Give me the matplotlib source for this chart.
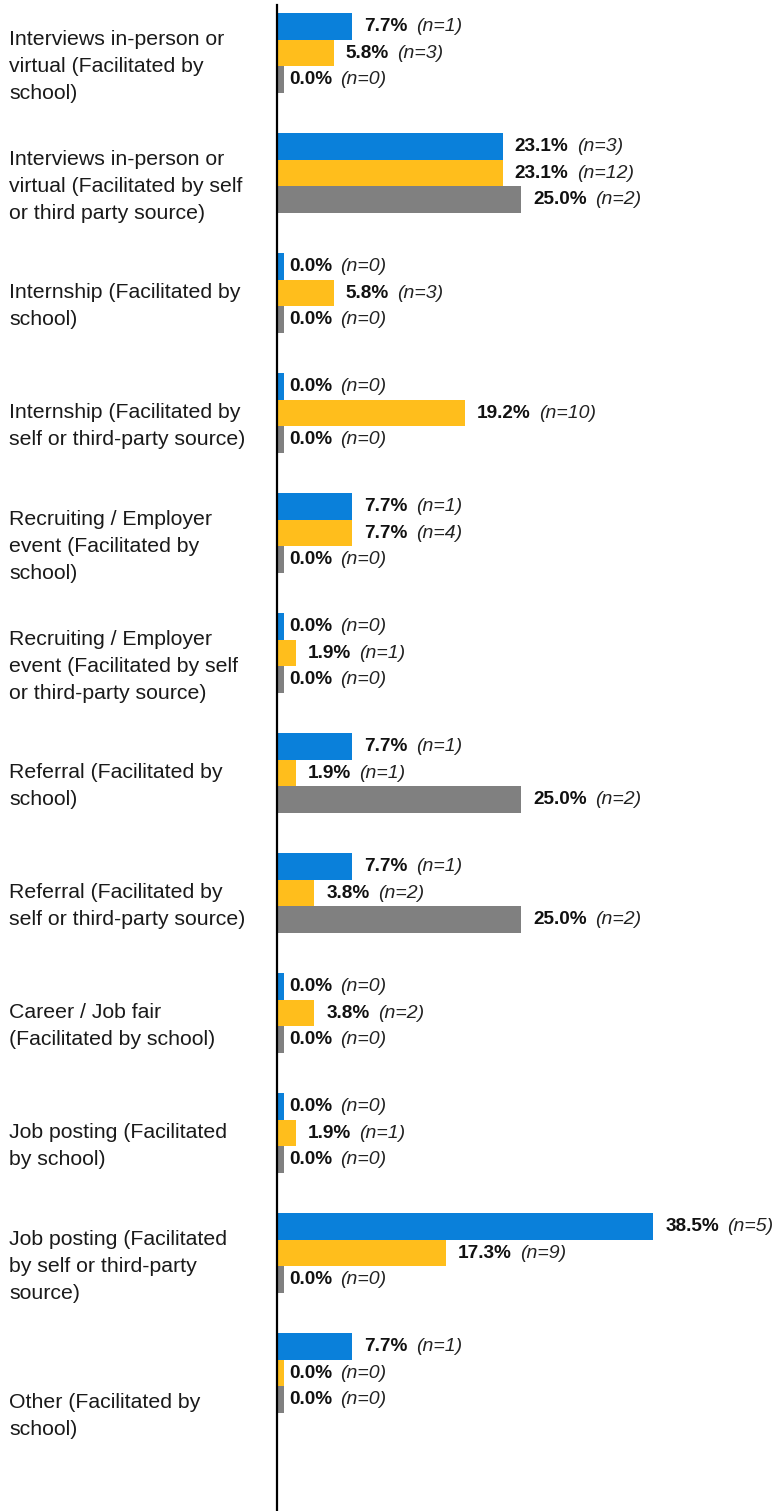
import matplotlib
matplotlib.use('Agg')
import matplotlib.pyplot as plt
from matplotlib.transforms import offset_copy, blended_transform_factory

plt.rcParams['font.family'] = ['Liberation Sans', 'DejaVu Sans']

categories = [
    "Interviews in-person or\nvirtual (Facilitated by\nschool)",
    "Interviews in-person or\nvirtual (Facilitated by self\nor third party source)",
    "Internship (Facilitated by\nschool)",
    "Internship (Facilitated by\nself or third-party source)",
    "Recruiting / Employer\nevent (Facilitated by\nschool)",
    "Recruiting / Employer\nevent (Facilitated by self\nor third-party source)",
    "Referral (Facilitated by\nschool)",
    "Referral (Facilitated by\nself or third-party source)",
    "Career / Job fair\n(Facilitated by school)",
    "Job posting (Facilitated\nby school)",
    "Job posting (Facilitated\nby self or third-party\nsource)",
    "Other (Facilitated by\nschool)",
]

series_names = ["Group 1", "Group 2", "Group 3"]
blue_pct = [7.7, 23.1, 0.0, 0.0, 7.7, 0.0, 7.7, 7.7, 0.0, 0.0, 38.5, 7.7]
blue_n = [1, 3, 0, 0, 1, 0, 1, 1, 0, 0, 5, 1]
yellow_pct = [5.8, 23.1, 5.8, 19.2, 7.7, 1.9, 1.9, 3.8, 3.8, 1.9, 17.3, 0.0]
yellow_n = [3, 12, 3, 10, 4, 1, 1, 2, 2, 1, 9, 0]
gray_pct = [0.0, 25.0, 0.0, 0.0, 0.0, 0.0, 25.0, 25.0, 0.0, 0.0, 0.0, 0.0]
gray_n = [0, 2, 0, 0, 0, 0, 2, 2, 0, 0, 0, 0]

colors = ["#0A80DA", "#FFBE1C", "#808080"]

W, H = 776, 1511
fig = plt.figure(figsize=(W / 100, H / 100), dpi=100)
ax = fig.add_axes([277 / W, 0, (W - 277) / W, (H - 5) / H])

bar_h = 0.222
min_stub = 0.7
series = [(blue_pct, blue_n), (yellow_pct, yellow_n), (gray_pct, gray_n)]
offsets = [-bar_h, 0.0, bar_h]

val_trans = offset_copy(ax.transData, fig=fig, x=12, y=0, units='dots')
for (pcts, ns), off, col, name in zip(series, offsets, colors, series_names):
    ys = [i + off for i in range(len(categories))]
    widths = [max(p, min_stub) for p in pcts]
    ax.barh(ys, widths, height=bar_h, color=col, label=name, linewidth=0)
    for y, p, n in zip(ys, pcts, ns):
        t = ax.text(p, y, f"{p:.1f}%", transform=val_trans, ha='left', va='center',
                    fontsize=13.7, fontweight='bold', color='#111111', clip_on=False)
        ax.annotate(f"(n={n})", xy=(1, 0.5), xycoords=t, xytext=(6, 0),
                    textcoords='offset points', ha='left', va='center',
                    fontsize=14, fontstyle='italic', color='#222222',
                    annotation_clip=False)

ax.set_xlim(0, (W - 277) / 9.77)
ax.set_ylim((H - 53) / 120, -48 / 120)

lab_trans = blended_transform_factory(fig.transFigure, ax.transData)
label_shift = [0.11] * (len(categories) - 1) + [0.36]
for i, (lab, sh) in enumerate(zip(categories, label_shift)):
    fig.text(9 / W, i + sh, lab, transform=lab_trans, ha='left', va='center',
             fontsize=15.3, color='#1a1a1a', linespacing=1.54)

for s in ['top', 'right', 'bottom']:
    ax.spines[s].set_visible(False)
ax.spines['left'].set_linewidth(1.6)
ax.spines['left'].set_color('black')
ax.set_xticks([])
ax.set_yticks([])

fig.savefig('out.png', dpi=100)
